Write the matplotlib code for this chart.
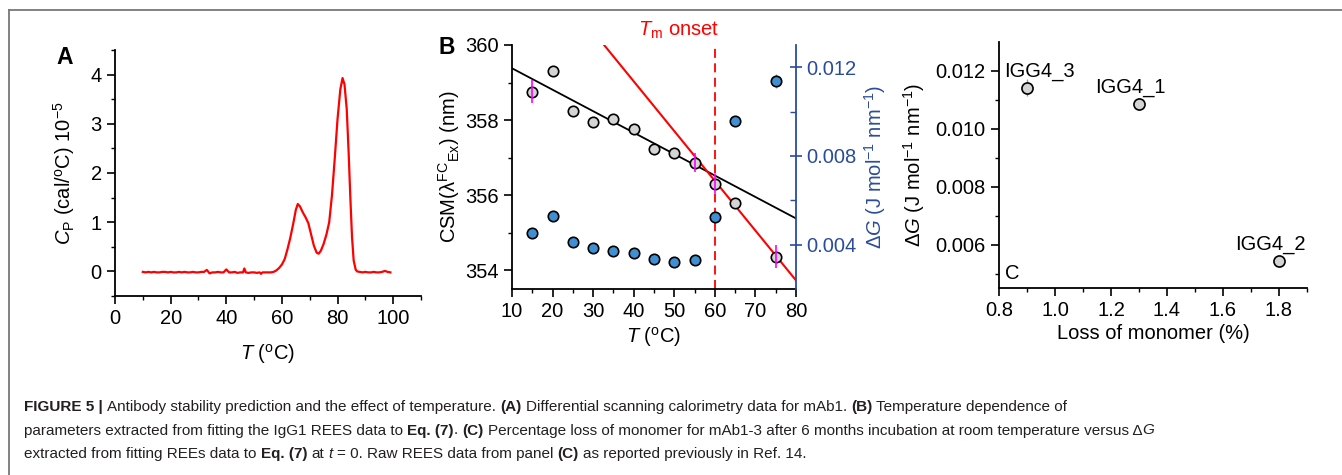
import matplotlib
matplotlib.use("Agg")
import matplotlib.pyplot as plt
from matplotlib.lines import Line2D
from matplotlib.ticker import MultipleLocator, FixedLocator
from matplotlib import font_manager

plt.rcParams['font.family'] = ['Liberation Sans', 'DejaVu Sans']
plt.rcParams['mathtext.fontset'] = 'custom'
plt.rcParams['mathtext.rm'] = 'Liberation Sans'
plt.rcParams['mathtext.it'] = 'Liberation Sans:italic'
plt.rcParams['mathtext.bf'] = 'Liberation Sans:bold'

# ---------------- Panel A: DSC data ----------------
dsc_T = [10, 11, 12, 13, 14, 15, 16, 17, 18, 19, 20, 21, 22, 23, 24, 25, 26, 27, 28, 29,
         30, 31, 32, 33, 34, 35, 36, 37, 38, 39, 40, 41, 42, 43, 44, 45, 46, 46.5, 47, 48,
         49, 50, 51, 52, 52.5, 53, 54, 55, 56, 57, 58, 59, 60, 61, 62, 63, 64, 65, 65.7,
         66.5, 67.5, 68.5, 69.5, 70.5, 71.5, 72.5, 73.2, 74, 75, 76, 77, 78, 79, 80, 81,
         81.8, 82.5, 83.3, 84, 84.6, 85.2, 85.8, 86.5, 87, 88, 89, 90, 91, 92, 93, 94, 95,
         96, 97, 98, 99]
dsc_cp = [-0.01, -0.02, -0.01, -0.02, -0.01, -0.02, -0.02, -0.01, -0.01, -0.02, -0.01,
          -0.02, -0.02, -0.01, -0.02, -0.01, -0.02, -0.02, -0.01, -0.02, -0.02, -0.01,
          -0.01, 0.03, -0.04, -0.02, -0.02, -0.01, -0.02, -0.02, 0.04, -0.02, -0.02, -0.01,
          -0.03, -0.02, -0.02, 0.06, -0.02, -0.03, -0.02, -0.02, -0.03, -0.02, -0.05, -0.02,
          -0.02, -0.02, -0.02, -0.01, 0.02, 0.07, 0.14, 0.25, 0.45, 0.68, 0.95, 1.25, 1.37,
          1.32, 1.20, 1.10, 0.98, 0.75, 0.52, 0.38, 0.36, 0.42, 0.56, 0.75, 1.00, 1.55, 2.30,
          3.10, 3.70, 3.93, 3.80, 3.30, 2.40, 1.50, 0.70, 0.22, 0.04, 0.00, -0.01, -0.02,
          -0.01, -0.02, -0.02, -0.01, -0.02, -0.02, -0.01, 0.01, -0.01, -0.02]

# ---------------- Panel B ----------------
temps_B = [15, 20, 25, 30, 35, 40, 45, 50, 55, 60, 65, 75]
csm_B = [358.76, 359.31, 358.25, 357.95, 358.03, 357.76, 357.23, 357.12, 356.86, 356.31,
         355.80, 354.36]
csm_err_B = [0.30, 0.0, 0.0, 0.0, 0.0, 0.0, 0.0, 0.0, 0.25, 0.25, 0.0, 0.30]
dG_B = [0.00453, 0.00530, 0.00410, 0.00383, 0.00370, 0.00363, 0.00337, 0.00320, 0.00331,
        0.00524, 0.00959, 0.01138]
dG_err_B = [0.0001, 0.0001, 0.0001, 0.0001, 0.0001, 0.0001, 0.0001, 0.0001, 0.0001,
            0.0001, 0.0001, 0.0003]
fit_T = [10, 80]
fit_csm = [359.38, 355.38]
onset_T = [32.7, 80]
onset_csm = [360.0, 353.73]
tm_onset = 60

# ---------------- Panel C ----------------
loss_C = [0.9, 1.3, 1.8]
dG_C = [0.01142, 0.01085, 0.00543]
dG_err_C = [0.0003, 0.0002, 0.0001]
names_C = ['IGG4_3', 'IGG4_1', 'IGG4_2']

W, H = 1342, 475
fig = plt.figure(figsize=(W / 100, H / 100), dpi=100)

def frac(l, t, r, b):
    return [l / W, 1 - b / H, (r - l) / W, (b - t) / H]

FS = 14.5
spine_w = 1.3
deg = r'($^{\mathrm{o}}$C)'

# ---- Panel A ----
axA = fig.add_axes(frac(115, 50, 421, 296))
axA.plot(dsc_T, dsc_cp, color='#ff0000', lw=1.6)
axA.set_xlim(0, 110)
axA.set_ylim(-0.5, 4.5)
axA.set_xticks([0, 20, 40, 60, 80, 100])
axA.xaxis.set_minor_locator(MultipleLocator(10))
axA.set_yticks([0, 1, 2, 3, 4])
axA.yaxis.set_minor_locator(MultipleLocator(0.5))
for s in ['top', 'right']:
    axA.spines[s].set_visible(False)
for s in ['left', 'bottom']:
    axA.spines[s].set_linewidth(spine_w)
axA.tick_params(which='major', direction='out', length=6, width=1.2, labelsize=FS)
axA.tick_params(which='minor', direction='out', length=3, width=1.0)
axA.set_xlabel(r'$T$ ' + deg, fontsize=FS, labelpad=10)
axA.set_ylabel(r'$C_{\mathrm{P}}$ (cal/$^{\mathrm{o}}$C) 10$^{-5}$', fontsize=FS, labelpad=10)
fig.text(65 / W, 1 - 57 / H, 'A', fontsize=16.5, fontweight='bold', ha='center', va='center')

# ---- Panel B ----
axB = fig.add_axes(frac(512, 45, 796, 289))
axB2 = axB.twinx()
blue_axis = '#2b4c9b'
axB.plot(fit_T, fit_csm, color='black', lw=1.3, zorder=2)
axB.plot(onset_T, onset_csm, color='#ff0000', lw=1.5, zorder=2)
axB.axvline(tm_onset, color='#ff0000', lw=1.3, ls=(0, (5, 3)), zorder=1)
axB.plot(temps_B, csm_B, 'o', ms=7.5, mfc='#d4d4d4', mec='black', mew=1.2, zorder=4)
axB.errorbar(temps_B, csm_B, yerr=csm_err_B, fmt='none', ecolor='#ff00ff', elinewidth=1.2,
             zorder=5)
axB2.errorbar(temps_B, dG_B, yerr=dG_err_B, fmt='none', ecolor='#9a9a9a', elinewidth=1.0,
              zorder=3)
axB2.plot(temps_B, dG_B, 'o', ms=7.5, mfc='#3f8fd2', mec='black', mew=1.2, zorder=4)
axB.set_xlim(10, 80)
axB.set_ylim(353.5, 360)
axB2.set_ylim(0.002, 0.013)
axB.set_xticks(range(10, 81, 10))
axB.xaxis.set_minor_locator(MultipleLocator(5))
axB.set_yticks([354, 356, 358, 360])
axB.yaxis.set_minor_locator(MultipleLocator(1))
axB2.set_yticks([0.004, 0.008, 0.012])
axB2.yaxis.set_minor_locator(FixedLocator([0.006, 0.010]))
axB2.set_yticklabels(['0.004', '0.008', '0.012'])
for s in ['top', 'right']:
    axB.spines[s].set_visible(False)
for s in ['top', 'left', 'bottom']:
    axB2.spines[s].set_visible(False)
for s in ['left', 'bottom']:
    axB.spines[s].set_linewidth(spine_w)
axB2.spines['right'].set_linewidth(spine_w)
axB2.spines['right'].set_color(blue_axis)
axB.tick_params(which='major', direction='out', length=6, width=1.2, labelsize=FS)
axB.tick_params(which='minor', direction='out', length=3, width=1.0)
axB2.tick_params(which='major', direction='inout', length=8, width=1.2, labelsize=FS,
                 colors=blue_axis)
axB2.tick_params(which='minor', direction='in', length=4, width=1.0, colors=blue_axis)
axB.set_xlabel(r'$T$ ' + deg, fontsize=FS, labelpad=3)
axB.set_ylabel(r'CSM(λ${}^{\mathrm{FC}}{}_{\mathrm{Ex}}$) (nm)', fontsize=FS, labelpad=2)
axB2.set_ylabel(r'$\Delta G$ (J mol$^{-1}$ nm$^{-1}$)', fontsize=FS, color=blue_axis,
                labelpad=4)
axB.text(61.2, 360.25, r'$T_{\mathrm{m}}$ onset', color='#ff0000', fontsize=FS, ha='right',
         va='baseline', clip_on=False)
fig.text(447 / W, 1 - 48 / H, 'B', fontsize=16.5, fontweight='bold', ha='center', va='center')

# ---- Panel C ----
axC = fig.add_axes(frac(999, 42, 1307, 288))
axC.errorbar(loss_C, dG_C, yerr=dG_err_C, fmt='none', ecolor='#9a9a9a', elinewidth=1.0,
             zorder=3)
axC.plot(loss_C, dG_C, 'o', ms=8, mfc='#d4d4d4', mec='black', mew=1.2, zorder=4)
offsets = [(9, 12), (-6.5, 12), (-6.5, 12)]
for xv, yv, nm, off in zip(loss_C, dG_C, names_C, offsets):
    axC.annotate(nm, (xv, yv), xytext=off, textcoords='offset points', ha='center',
                 va='center', fontsize=FS)
axC.set_xlim(0.8, 1.9)
axC.set_ylim(0.0045, 0.013)
axC.set_xticks([0.8, 1.0, 1.2, 1.4, 1.6, 1.8])
axC.set_xticklabels(['0.8', '1.0', '1.2', '1.4', '1.6', '1.8'])
axC.xaxis.set_minor_locator(MultipleLocator(0.1))
axC.set_yticks([0.006, 0.008, 0.010, 0.012])
axC.set_yticklabels(['0.006', '0.008', '0.010', '0.012'])
axC.yaxis.set_minor_locator(FixedLocator([0.005, 0.007, 0.009, 0.011]))
for s in ['top', 'right']:
    axC.spines[s].set_visible(False)
for s in ['left', 'bottom']:
    axC.spines[s].set_linewidth(spine_w)
axC.tick_params(which='major', direction='out', length=6, width=1.2, labelsize=FS)
axC.tick_params(which='minor', direction='out', length=3, width=1.0)
axC.set_xlabel('Loss of monomer (%)', fontsize=FS, labelpad=3)
axC.set_ylabel(r'$\Delta G$ (J mol$^{-1}$ nm$^{-1}$)', fontsize=FS, labelpad=6)
axC.text(0.02, 0.06, 'C', transform=axC.transAxes, fontsize=FS, ha='left', va='center')

# ---- frame lines ----
fig.add_artist(Line2D([9 / W, 1], [1 - 10 / H, 1 - 10 / H], color='#777777', lw=1.3))
fig.add_artist(Line2D([9 / W, 9 / W], [0, 1 - 10 / H], color='#777777', lw=1.3))

# ---- caption ----
try:
    font_manager.findfont(font_manager.FontProperties(family='Liberation Sans Narrow'),
                          fallback_to_default=False)
    cap_family = 'Liberation Sans Narrow'
    cap_fs = 11.5
except Exception:
    cap_family = 'Liberation Sans'
    cap_fs = 11.0

caption = [
    [("FIGURE 5 |", 'b'), (" Antibody stability prediction and the effect of temperature.", 'n'),
     (" (A)", 'b'), (" Differential scanning calorimetry data for mAb1.", 'n'), (" (B)", 'b'),
     (" Temperature dependence of", 'n')],
    [("parameters extracted from fitting the IgG1 REES data to", 'n'), (" Eq. (7)", 'b'),
     (".", 'n'), (" (C)", 'b'),
     (" Percentage loss of monomer for mAb1-3 after 6 months incubation at room temperature versus \u0394", 'n'),
     ("G", 'i')],
    [("extracted from fitting REEs data to", 'n'), (" Eq. (7)", 'b'), (" at", 'n'), (" t", 'i'),
     (" = 0. Raw REES data from panel", 'n'), (" (C)", 'b'),
     (" as reported previously in Ref. 14.", 'n')],
]
renderer = fig.canvas.get_renderer()

def make(x, y, s, style):
    kw = dict(fontsize=cap_fs, family=cap_family, color='#231f20', ha='left', va='baseline')
    if style == 'b':
        kw['fontweight'] = 'bold'
    if style == 'i':
        kw['fontstyle'] = 'italic'
    return fig.text(x, y, s, **kw)

probe = make(0, 0, 'x x', 'n')
w2 = probe.get_window_extent(renderer).width
probe.remove()
probe = make(0, 0, 'xx', 'n')
w1 = probe.get_window_extent(renderer).width
probe.remove()
space_w = w2 - w1

line_y = [411, 434.5, 458]
for segs, yy in zip(caption, line_y):
    x = 24.0
    for s, st in segs:
        if s.startswith(' '):
            x += space_w
            s = s[1:]
        t = make(x / W, 1 - yy / H, s, st)
        x += t.get_window_extent(renderer).width

fig.savefig('out.png', dpi=100)
